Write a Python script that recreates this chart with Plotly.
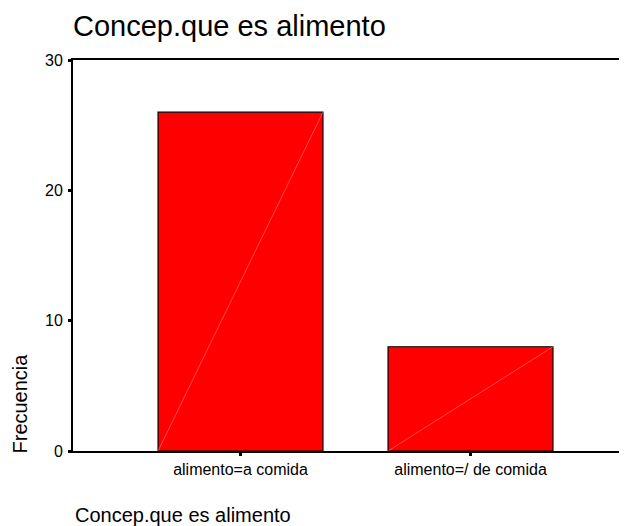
import plotly.graph_objects as go

categories = ["alimento=a comida", "alimento=/ de comida"]
frecuencia = [26, 8]
y_ticks = [0, 10, 20, 30]
title_text = "Concep.que es alimento"
y_title = "Frecuencia"
x_title = "Concep.que es alimento"

FONT = "Liberation Sans, Arial, sans-serif"
bar_width = 0.717
xs = list(range(len(categories)))

# The page body has an 8px default margin, so the figure is drawn 8px smaller
# and all positions are measured from that offset.
OFF = 8
W, H = 627 - OFF, 526 - OFF
L, T, B = 73 - OFF, 60 - OFF, 526 - 451
PH = H - T - B  # plot height

fig = go.Figure()
fig.add_trace(go.Bar(
    x=xs, y=frecuencia, width=bar_width,
    marker=dict(color="#ff0000", line=dict(color="#000000", width=1.2)),
    hoverinfo="skip", showlegend=False,
))
# faint diagonal inside each bar (bottom-left to top-right)
for xi, v in zip(xs, frecuencia):
    fig.add_trace(go.Scatter(
        x=[xi - bar_width / 2, xi + bar_width / 2], y=[0, v],
        mode="lines", line=dict(color="rgba(255,140,140,0.9)", width=0.6),
        hoverinfo="skip", showlegend=False,
    ))

fig.update_layout(
    width=W, height=H,
    margin=dict(l=L, r=0, t=T, b=B, pad=0),
    paper_bgcolor="white", plot_bgcolor="white",
    font=dict(family=FONT, color="#000000"),
    title=dict(text=title_text, font=dict(size=29, family=FONT, color="#000"),
               xref="paper", x=0, xanchor="left",
               yref="container", y=1 - (26 - OFF) / H, yanchor="middle"),
    xaxis=dict(
        range=[-0.7283, 1.6804], tickvals=xs, ticktext=categories,
        showline=True, linecolor="#000", linewidth=2, mirror=True,
        ticks="outside", ticklen=3, tickwidth=3, tickcolor="#000",
        tickfont=dict(size=16, family=FONT, color="#000"),
        showgrid=False, zeroline=False, fixedrange=True,
    ),
    yaxis=dict(
        range=[0, 30], tickvals=y_ticks,
        showline=True, linecolor="#000", linewidth=2,
        ticks="outside", ticklen=3, tickwidth=3, tickcolor="#000",
        tickfont=dict(size=16, family=FONT, color="#000"),
        ticklabelstandoff=2,
        showgrid=False, zeroline=False, fixedrange=True,
    ),
    annotations=[
        dict(text=y_title, textangle=-90, xref="paper", yref="paper",
             x=(19.5 - 73) / 554, y=-5 / PH, xanchor="center", yanchor="bottom",
             showarrow=False, font=dict(size=20, family=FONT, color="#000")),
        dict(text=x_title, xref="paper", yref="paper",
             x=0, y=(451 - 515) / PH, xanchor="left", yanchor="middle",
             showarrow=False, font=dict(size=20, family=FONT, color="#000")),
    ],
)

fig.write_html("out.html")
